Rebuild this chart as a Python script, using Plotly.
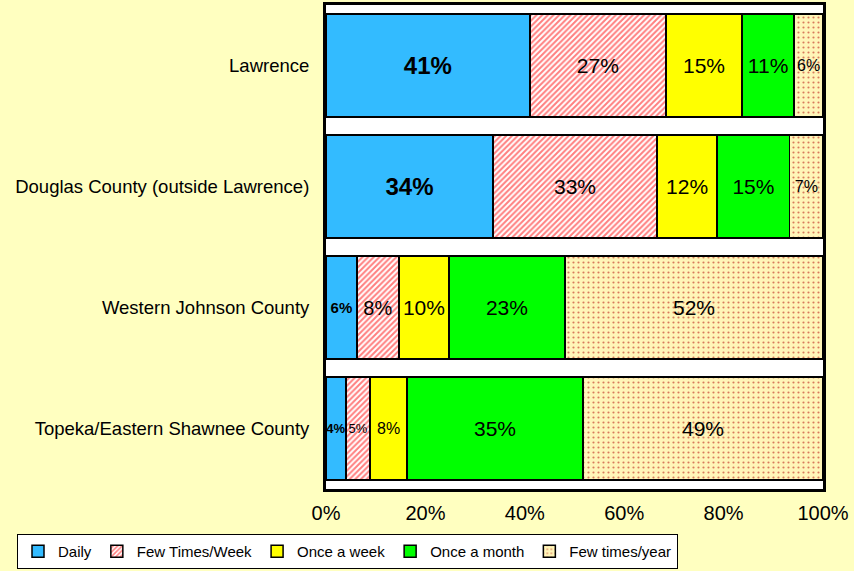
import plotly.graph_objects as go

regions = ["Lawrence", "Douglas County (outside Lawrence)",
           "Western Johnson County", "Topeka/Eastern Shawnee County"]

series = ["Daily", "Few Times/Week", "Once a week", "Once a month", "Few times/year"]

daily = [41.0, 33.6, 6.2, 4.0]
few_week = [27.4, 33.0, 8.5, 4.9]
once_week = [15.3, 12.1, 10.0, 7.4]
once_month = [10.5, 14.6, 23.4, 35.4]
few_year = [5.8, 6.7, 51.9, 48.3]

labels = [
    ["41%", "34%", "6%", "4%"],
    ["27%", "33%", "8%", "5%"],
    ["15%", "12%", "10%", "8%"],
    ["11%", "15%", "23%", "35%"],
    ["6%", "7%", "52%", "49%"],
]

tick_vals = [0, 20, 40, 60, 80, 100]
tick_text = ["0%", "20%", "40%", "60%", "80%", "100%"]

values = [daily, few_week, once_week, once_month, few_year]
colors = ["#33BBFF", "#FFFFFF", "#FFFF00", "#00FF00", "#FFF5B8"]
patterns = [
    dict(shape=""),
    dict(shape="/", fgcolor="#FF0000", bgcolor="#FFFFFF", size=4, solidity=0.5),
    dict(shape=""),
    dict(shape=""),
    dict(shape=".", fgcolor="#B00000", bgcolor="#FFF5B8", size=5, solidity=0.15),
]
text_sizes = [
    [24, 24, 15, 13],
    [21, 21, 20, 13],
    [21, 21, 21, 16],
    [21, 21, 21, 21],
    [16, 16, 21, 21],
]
bold = [True, False, False, False, False]

fig = go.Figure()
for name, vals, col, pat, txt, sz, b in zip(series, values, colors, patterns,
                                            labels, text_sizes, bold):
    fig.add_trace(go.Bar(
        y=regions, x=vals, name=name, orientation="h",
        marker=dict(color=col, pattern=pat, line=dict(color="#000000", width=1.5)),
        text=[("<b>%s</b>" % t) if b else t for t in txt],
        textposition="inside", insidetextanchor="middle", textangle=0,
        constraintext="none",
        textfont=dict(size=sz, color="#000000", family="Liberation Sans, Arial"),
        hoverinfo="skip",
    ))

fig.update_layout(
    barmode="stack",
    bargap=0.145,
    width=854, height=571,
    paper_bgcolor="#FFFFC0",
    plot_bgcolor="#FFFFFF",
    margin=dict(l=326, r=31, t=5, b=82, autoexpand=False),
    font=dict(family="Liberation Sans, Arial", color="#000000"),
    showlegend=True,
    legend=dict(
        orientation="h",
        x=-309 / 497, xanchor="left", y=-45 / 484, yanchor="top",
        bgcolor="#FFFFFF", bordercolor="#000000", borderwidth=1,
        font=dict(size=15), traceorder="normal", itemwidth=30,
        tracegroupgap=0,
    ),
    xaxis=dict(
        range=[0, 100], tickvals=tick_vals, ticktext=tick_text,
        showgrid=False, zeroline=False, showline=True, mirror=True,
        linecolor="#000000", linewidth=3, tickfont=dict(size=20),
        ticks="outside", ticklen=4, tickcolor="rgba(0,0,0,0)",
        automargin=False,
    ),
    yaxis=dict(
        categoryorder="array", categoryarray=regions[::-1],
        showgrid=False, showline=True, mirror=True, linecolor="#000000",
        linewidth=3, tickfont=dict(size=18.5), ticks="outside", ticklen=10,
        tickcolor="rgba(0,0,0,0)", automargin=False,
    ),
    uniformtext=dict(mode=False),
)

fig.write_html("out.html", config={"displayModeBar": False},
               post_script="document.body.style.margin='0';")
